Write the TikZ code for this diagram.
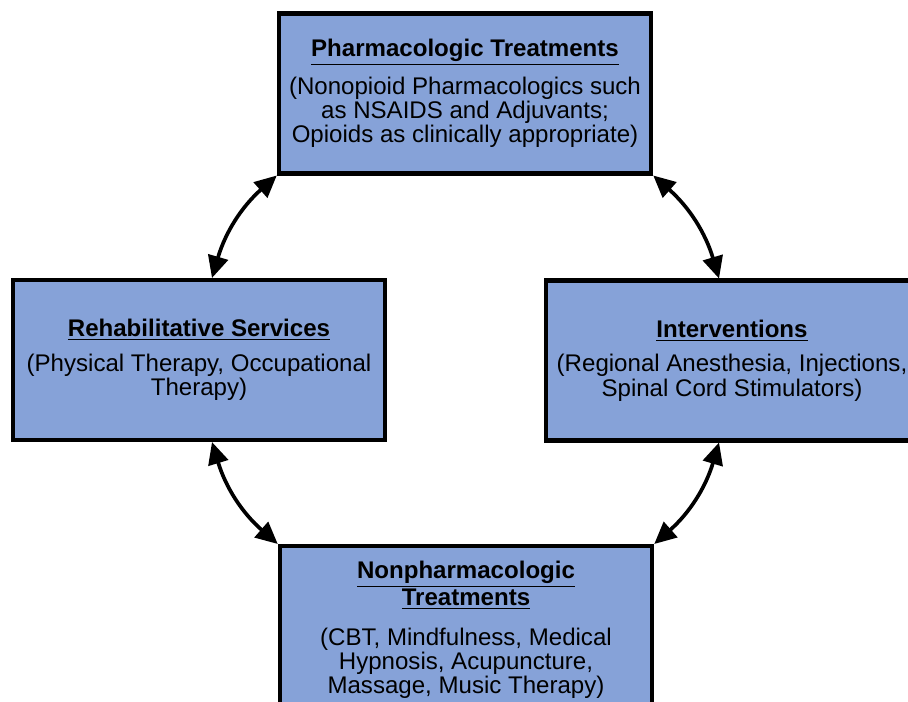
\documentclass[tikz,border=0pt]{standalone}
\usepackage{fontspec}
\setmainfont{Liberation Sans}
\usepackage{tikz}
\usetikzlibrary{arrows.meta}
\usetikzlibrary{positioning}
\definecolor{boxblue}{RGB}{134,162,216}
\tikzstyle{treatment}=[draw,line width=2.3pt,fill=boxblue,align=center,minimum width=7.45cm,minimum height=3.2cm,inner sep=2pt,font=\fontsize{13.7}{13.7}\selectfont]
\tikzstyle{link}=[{Triangle[length=12.5pt,width=11.5pt]}-{Triangle[length=12.5pt,width=11.5pt]},line width=2.1pt,bend left=16]

\begin{document}
\begin{tikzpicture}[x=0.02cm,y=0.02cm]
\useasboundingbox (0,0) rectangle (908,-702);
\clip (0,0) rectangle (908,-702);
    \node [treatment] (pharm) at (465,-93.5) {\underline{\textbf{Pharmacologic Treatments}}\\[6pt]
      (Nonopioid Pharmacologics such\\as NSAIDS and Adjuvants;\\Opioids as clinically appropriate)};
    \node [treatment] (rehab) at (199,-360) {\underline{\textbf{Rehabilitative Services}}\\[6pt]
      (Physical Therapy, Occupational\\Therapy)};
    \node [treatment] (interv) at (732,-360.5) {\underline{\textbf{Interventions}}\\[6pt]
      (Regional Anesthesia, Injections,\\Spinal Cord Stimulators)};
    \node [treatment,minimum height=3.36cm] (nonpharm) at (466,-630) {\underline{\textbf{Nonpharmacologic}}\\\underline{\textbf{Treatments}}\\[9pt]
      (CBT, Mindfulness, Medical\\Hypnosis, Acupuncture,\\Massage, Music Therapy)};

\draw [link] (rehab.81) to (pharm.south west);
\draw [link] (pharm.south east) to (interv.99);
\draw [link] (interv.-99) to (nonpharm.north east);
\draw [link] (nonpharm.north west) to (rehab.-81);
\end{tikzpicture}
\end{document}
